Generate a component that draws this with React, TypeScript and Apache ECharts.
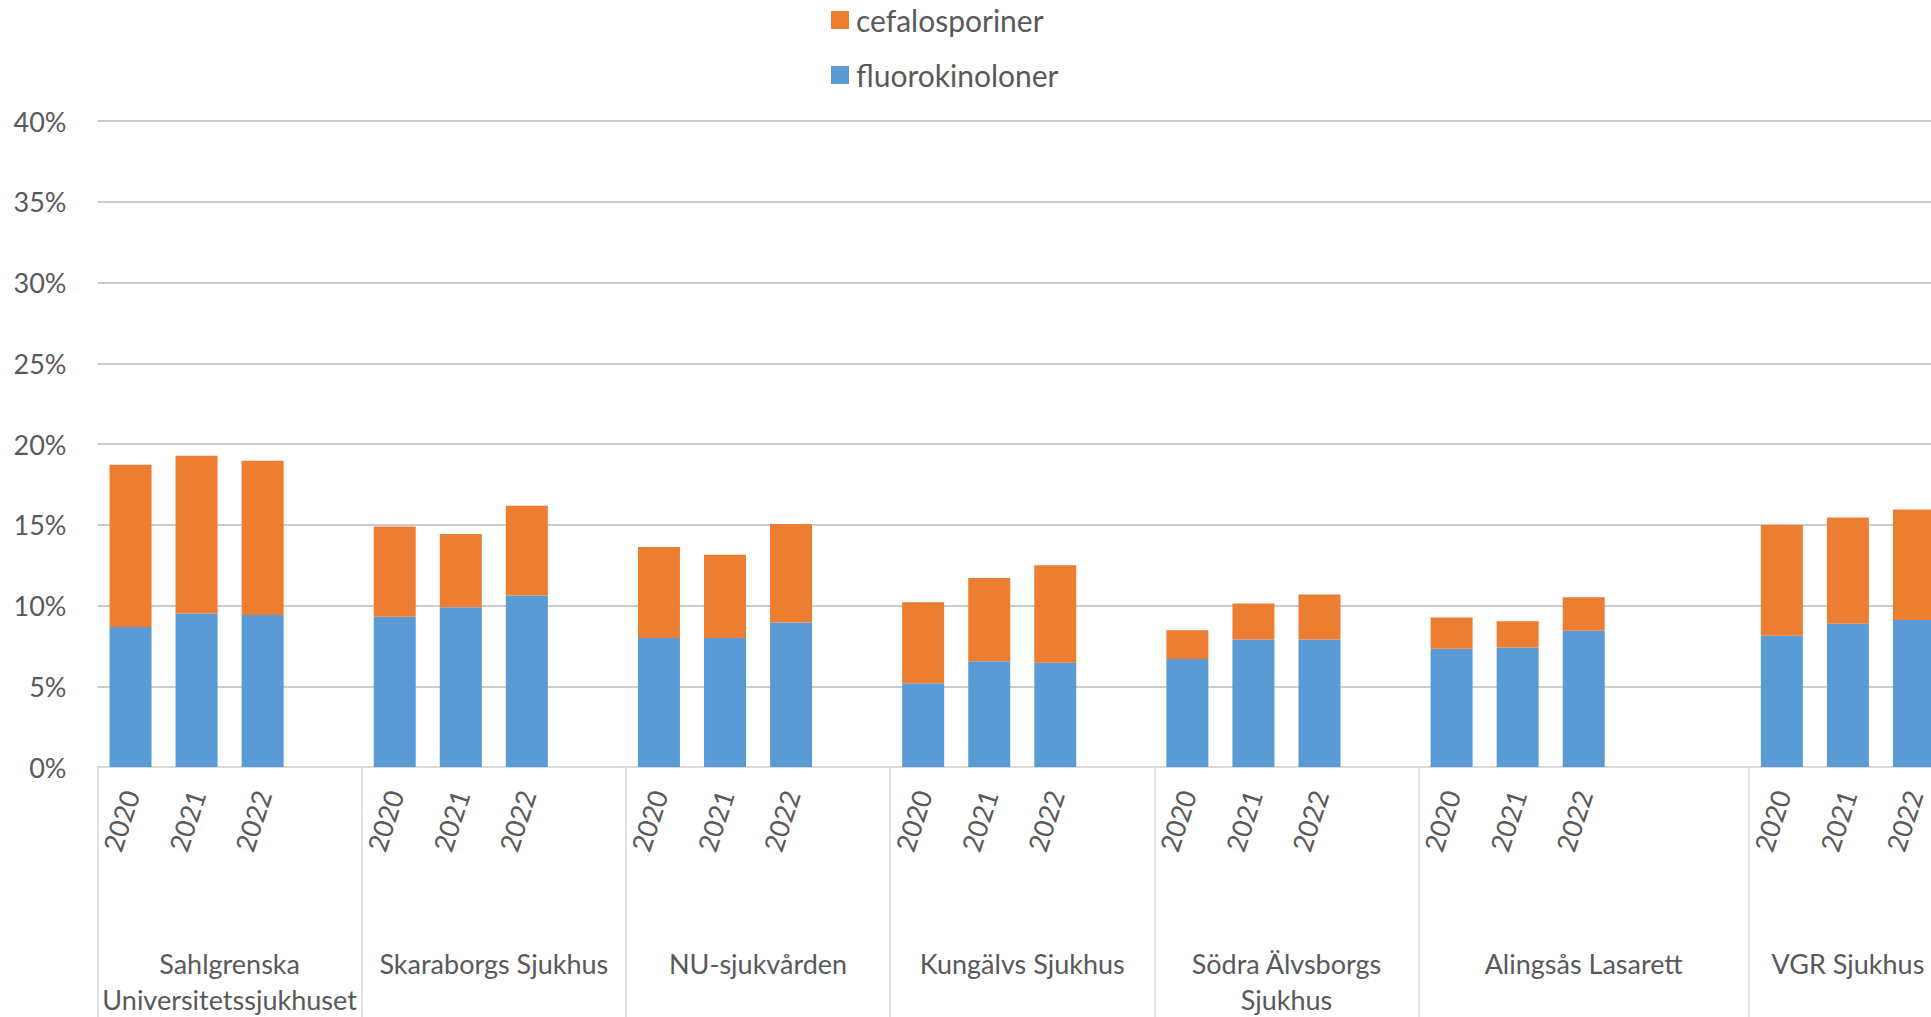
import React, { useEffect, useRef } from "react";
import * as echarts from "echarts";

const hospitals = [
  "Sahlgrenska\nUniversitetssjukhuset",
  "Skaraborgs Sjukhus",
  "NU-sjukvården",
  "Kungälvs Sjukhus",
  "Södra Älvsborgs\nSjukhus",
  "Alingsås Lasarett",
  "VGR Sjukhus",
];
const years = ["2020", "2021", "2022"];
// number of category slots each hospital group occupies on the axis (years + empty gap slots)
const groupSlots = [4, 4, 4, 4, 4, 5, 3];

const fluorokinoloner = [
  [8.67, 9.5, 9.41],
  [9.31, 9.89, 10.62],
  [7.98, 7.98, 8.94],
  [5.18, 6.55, 6.45],
  [6.68, 7.9, 7.9],
  [7.32, 7.4, 8.44],
  [8.13, 8.87, 9.1],
];
const cefalosporiner = [
  [10.05, 9.78, 9.56],
  [5.58, 4.54, 5.55],
  [5.64, 5.17, 6.11],
  [5.02, 5.16, 6.05],
  [1.78, 2.22, 2.78],
  [1.93, 1.62, 2.07],
  [6.86, 6.58, 6.84],
];
const yTicks = [0, 5, 10, 15, 20, 25, 30, 35, 40];

const FONT = "Lato";
const TEXT = "#595959";

export default function App() {
  const ref = useRef<HTMLDivElement>(null);

  useEffect(() => {
    if (!ref.current) return;
    const chart = echarts.init(ref.current, undefined, { renderer: "svg" });

    const categories: string[] = [];
    const fluoroData: (number | null)[] = [];
    const cefaloData: (number | null)[] = [];
    const boundaries: number[] = [0];
    const centers: number[] = [];
    let pos = 0;
    hospitals.forEach((_, g) => {
      const n = groupSlots[g];
      for (let i = 0; i < n; i++) {
        if (i < years.length) {
          categories.push(years[i]);
          fluoroData.push(fluorokinoloner[g][i]);
          cefaloData.push(cefalosporiner[g][i]);
        } else {
          categories.push("");
          fluoroData.push(null);
          cefaloData.push(null);
        }
      }
      centers.push(pos + n / 2);
      pos += n;
      boundaries.push(pos);
    });
    const total = pos;

    chart.setOption({
      animation: false,
      backgroundColor: "#ffffff",
      textStyle: { fontFamily: FONT, color: TEXT },
      legend: {
        orient: "vertical",
        left: 826,
        top: 0,
        itemWidth: 18,
        itemHeight: 18,
        itemGap: 25,
        icon: "rect",
        data: ["cefalosporiner", "fluorokinoloner"],
        textStyle: { fontFamily: FONT, fontSize: 30, color: TEXT, lineHeight: 30, padding: [0, 0, 0, 2] },
      },
      grid: { left: 97.5, right: 53, top: 121, bottom: 250, containLabel: false },
      xAxis: [
        {
          type: "category",
          data: categories,
          position: "bottom",
          axisLine: { show: true, lineStyle: { color: "#d9d9d9", width: 2 } },
          axisTick: { show: false },
          axisLabel: {
            interval: 0,
            rotate: 72,
            margin: 24,
            fontFamily: FONT,
            fontSize: 27,
            color: TEXT,
          },
        },
        {
          type: "value",
          min: 0,
          max: total,
          position: "bottom",
          offset: 0,
          axisLine: { show: false },
          splitLine: { show: false },
          axisTick: {
            show: true,
            customValues: boundaries,
            length: 250,
            lineStyle: { color: "#d9d9d9", width: 1.5 },
          },
          axisLabel: {
            show: true,
            customValues: centers,
            margin: 178,
            fontFamily: FONT,
            fontSize: 27,
            lineHeight: 36,
            color: TEXT,
            formatter: (v: number) => {
              const idx = centers.findIndex((c) => Math.abs(c - v) < 1e-6);
              return idx >= 0 ? hospitals[idx] : "";
            },
          },
        },
      ],
      yAxis: {
        type: "value",
        min: yTicks[0],
        max: yTicks[yTicks.length - 1],
        interval: yTicks[1] - yTicks[0],
        axisLine: { show: false },
        axisTick: { show: false },
        splitLine: { lineStyle: { color: "#cccccc", width: 2 } },
        axisLabel: {
          formatter: "{value}%",
          margin: 31,
          fontFamily: FONT,
          fontSize: 27,
          color: TEXT,
        },
      },
      series: [
        {
          name: "fluorokinoloner",
          type: "bar",
          stack: "total",
          xAxisIndex: 0,
          barWidth: 42,
          itemStyle: { color: "#5B9BD5" },
          data: fluoroData,
        },
        {
          name: "cefalosporiner",
          type: "bar",
          stack: "total",
          xAxisIndex: 0,
          barWidth: 42,
          itemStyle: { color: "#ED7D31" },
          data: cefaloData,
        },
      ],
    });

    return () => chart.dispose();
  }, []);

  return (
    <div
      style={{
        position: "fixed",
        left: 0,
        top: 0,
        width: 1931,
        height: 1017,
        overflow: "hidden",
        background: "#fff",
      }}
    >
      <div ref={ref} style={{ width: 2000, height: 1017 }} />
    </div>
  );
}
